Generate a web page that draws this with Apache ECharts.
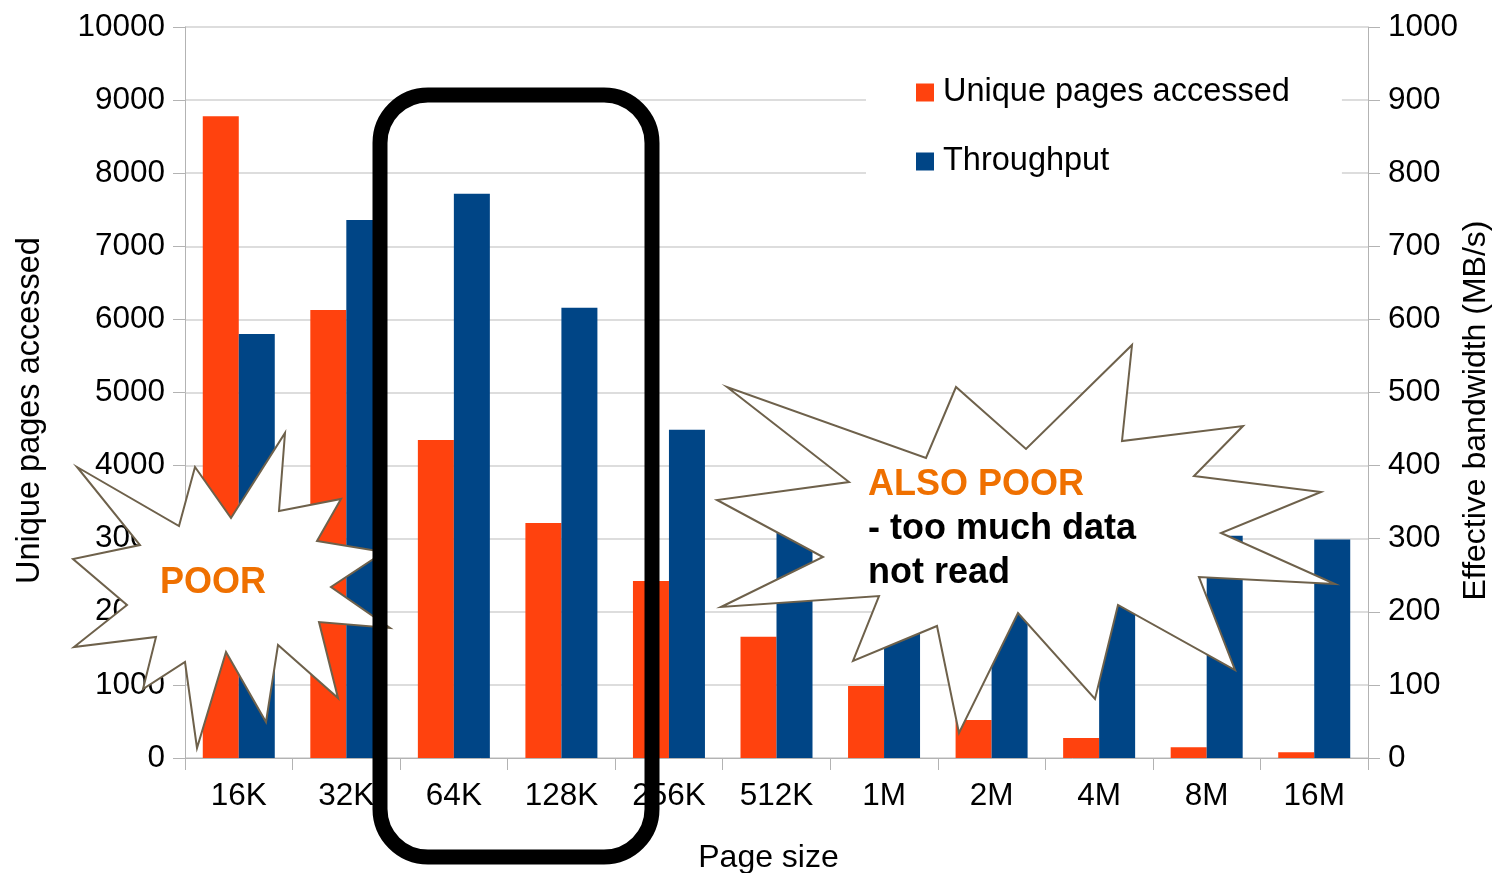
<!DOCTYPE html>
<html>
<head>
<meta charset="utf-8">
<title>Unique pages accessed vs throughput by page size</title>
<script src="https://cdn.jsdelivr.net/npm/echarts@6/dist/echarts.min.js"></script>
<style>
  html, body { margin: 0; padding: 0; background: #ffffff; }
  #chart { width: 1494px; height: 873px; }
</style>
</head>
<body>
<div id="chart"></div>
<script>
// Page sizes on the x axis
const pageSizes = ['16K', '32K', '64K', '128K', '256K', '512K', '1M', '2M', '4M', '8M', '16M'];
// Number of distinct pages touched (left axis)
const uniquePages = [8780, 6130, 4350, 3215, 2420, 1660, 985, 520, 274, 146, 78];
// Effective bandwidth in MB/s (right axis)
const throughput = [580, 736, 772, 616, 449, 308, 302, 297, 300, 304, 299];
// Axis tick settings
const leftTicks = { min: 0, max: 10000, interval: 1000 };
const rightTicks = { min: 0, max: 1000, interval: 100 };

const FONT = '"Liberation Sans", Arial, sans-serif';
const ORANGE = '#ff420e';
const BLUE = '#004586';
const CALLOUT = '#ef7000';
const STAR_STROKE = '#6e614b';

const chart = echarts.init(document.getElementById('chart'), null, { renderer: 'canvas' });

// Outline of the small burst on the left
const burstLeft = [
  [77, 467], [179, 526], [195, 467], [231, 518], [285, 433], [279, 511],
  [341, 499], [317, 541], [384, 552], [331, 587], [390, 628], [319, 622],
  [338, 698], [278, 645], [266, 722], [226, 652], [197, 748], [185, 662],
  [143, 689], [156, 637], [74, 647], [127, 605], [73, 559], [140, 545]
];
// Outline of the large burst on the right
const burstRight = [
  [727, 387], [849, 482], [717, 500], [823, 557], [721, 607], [879, 596],
  [853, 661], [937, 626], [959, 733], [1018, 613], [1095, 699], [1118, 605],
  [1235, 670], [1199, 577], [1335, 584], [1221, 533], [1321, 492], [1194, 476],
  [1243, 426], [1122, 441], [1132, 345], [1026, 449], [956, 387], [926, 458]
];

const plain = v => String(v);
const axisLabelStyle = { fontFamily: FONT, fontSize: 31.5, color: '#000000', formatter: plain };

chart.setOption({
  backgroundColor: '#ffffff',
  animation: false,
  textStyle: { fontFamily: FONT },
  grid: {
    left: 185, right: 126, top: 27, bottom: 115,
    containLabel: false,
    outerBoundsMode: 'none'
  },
  legend: {
    orient: 'vertical',
    left: 866,
    top: 60,
    padding: [16, 52, 16, 50],
    backgroundColor: '#ffffff',
    itemWidth: 18,
    itemHeight: 18,
    itemGap: 36,
    icon: 'rect',
    textStyle: { fontFamily: FONT, fontSize: 32.5, color: '#000000', padding: [0, 0, 0, 4] },
    data: ['Unique pages accessed', 'Throughput']
  },
  xAxis: {
    type: 'category',
    data: pageSizes,
    name: 'Page size',
    nameLocation: 'middle',
    nameGap: 84,
    nameMoveOverlap: false,
    nameTextStyle: { fontFamily: FONT, fontSize: 32, color: '#000000', padding: [0, 16, 0, 0] },
    axisLine: { show: true, lineStyle: { color: '#b3b3b3', width: 1 } },
    axisTick: { show: true, length: 12, lineStyle: { color: '#b3b3b3' } },
    axisLabel: Object.assign({}, axisLabelStyle, { margin: 22, formatter: null }),
    splitLine: { show: false }
  },
  yAxis: [
    {
      type: 'value',
      position: 'left',
      min: leftTicks.min, max: leftTicks.max, interval: leftTicks.interval,
      name: 'Unique pages accessed',
      nameLocation: 'middle',
      nameRotate: 90,
      nameGap: 138,
      nameMoveOverlap: false,
      nameTextStyle: { fontFamily: FONT, fontSize: 32.5, color: '#000000', padding: [0, 36, 0, 0] },
      axisLine: { show: true, lineStyle: { color: '#b3b3b3', width: 1 } },
      axisTick: { show: true, length: 12, lineStyle: { color: '#b3b3b3' } },
      axisLabel: Object.assign({ margin: 20 }, axisLabelStyle),
      splitLine: { show: true, lineStyle: { color: '#d2d2d2', width: 1.5 } }
    },
    {
      type: 'value',
      position: 'right',
      min: rightTicks.min, max: rightTicks.max, interval: rightTicks.interval,
      name: 'Effective bandwidth (MB/s)',
      nameLocation: 'middle',
      nameRotate: 90,
      nameGap: 92,
      nameMoveOverlap: false,
      nameTextStyle: { fontFamily: FONT, fontSize: 32, color: '#000000', padding: [0, 36, 0, 0] },
      axisLine: { show: true, lineStyle: { color: '#b3b3b3', width: 1 } },
      axisTick: { show: true, length: 12, lineStyle: { color: '#b3b3b3' } },
      axisLabel: Object.assign({ margin: 20 }, axisLabelStyle),
      splitLine: { show: false }
    }
  ],
  series: [
    {
      name: 'Unique pages accessed',
      type: 'bar',
      yAxisIndex: 0,
      data: uniquePages,
      barWidth: 36,
      barGap: '0%',
      itemStyle: { color: ORANGE }
    },
    {
      name: 'Throughput',
      type: 'bar',
      yAxisIndex: 1,
      data: throughput,
      barWidth: 36,
      barGap: '0%',
      itemStyle: { color: BLUE }
    }
  ],
  graphic: [
    {
      type: 'polygon',
      z: 100,
      shape: { points: burstLeft },
      style: { fill: '#ffffff', stroke: STAR_STROKE, lineWidth: 2, lineJoin: 'miter' }
    },
    {
      type: 'text',
      z: 101,
      x: 213, y: 583,
      style: {
        text: 'POOR',
        fill: CALLOUT,
        font: 'bold 36px ' + FONT,
        align: 'center',
        verticalAlign: 'middle'
      }
    },
    {
      type: 'polygon',
      z: 100,
      shape: { points: burstRight },
      style: { fill: '#ffffff', stroke: STAR_STROKE, lineWidth: 2, lineJoin: 'miter' }
    },
    {
      type: 'text',
      z: 101,
      x: 868, y: 485,
      style: {
        text: 'ALSO POOR',
        fill: CALLOUT,
        font: 'bold 36px ' + FONT,
        align: 'left',
        verticalAlign: 'middle'
      }
    },
    {
      type: 'text',
      z: 101,
      x: 868, y: 529,
      style: {
        text: '- too much data',
        fill: '#000000',
        font: 'bold 36px ' + FONT,
        align: 'left',
        verticalAlign: 'middle'
      }
    },
    {
      type: 'text',
      z: 101,
      x: 868, y: 573,
      style: {
        text: 'not read',
        fill: '#000000',
        font: 'bold 36px ' + FONT,
        align: 'left',
        verticalAlign: 'middle'
      }
    },
    {
      // Highlight frame around the 64K and 128K groups
      type: 'rect',
      z: 110,
      shape: { x: 380, y: 95, width: 272, height: 762, r: 48 },
      style: { fill: 'none', stroke: '#000000', lineWidth: 15 }
    }
  ]
});
</script>
</body>
</html>
